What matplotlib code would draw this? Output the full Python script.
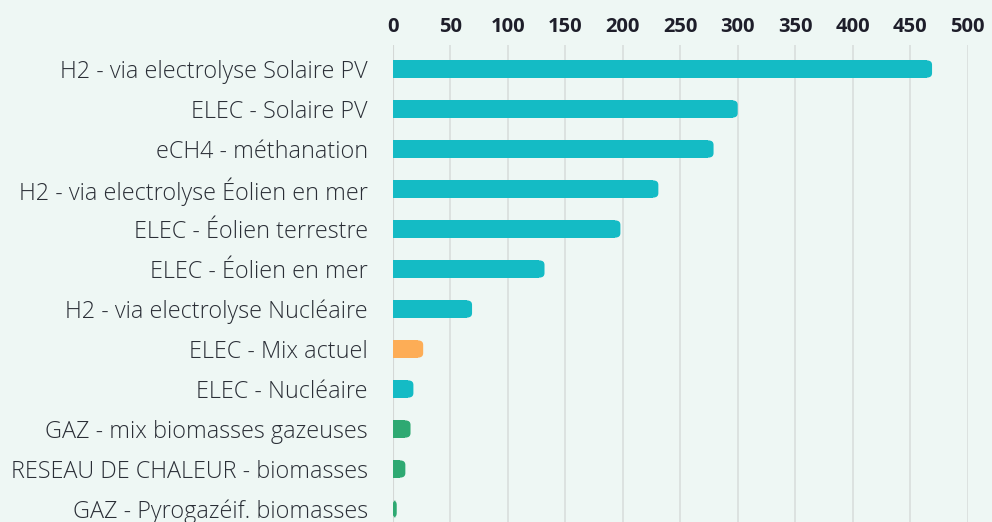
import matplotlib
matplotlib.use("Agg")
import matplotlib.pyplot as plt
from matplotlib.patches import FancyBboxPatch

labels = [
    "H2 - via electrolyse Solaire PV",
    "ELEC - Solaire PV",
    "eCH4 - méthanation",
    "H2 - via electrolyse Éolien en mer",
    "ELEC - Éolien terrestre",
    "ELEC - Éolien en mer",
    "H2 - via electrolyse Nucléaire",
    "ELEC - Mix actuel",
    "ELEC - Nucléaire",
    "GAZ - mix biomasses gazeuses",
    "RESEAU DE CHALEUR - biomasses",
    "GAZ - Pyrogazéif. biomasses",
]
values = [469, 300, 279, 231, 198, 132, 69, 26.5, 18, 15.5, 11, 3.5]
groups = ["elec", "elec", "elec", "elec", "elec", "elec", "elec", "mix", "elec", "bio", "bio", "bio"]
xticks = [0, 50, 100, 150, 200, 250, 300, 350, 400, 450, 500]

colors = {"elec": "#14bbc5", "mix": "#fdad56", "bio": "#2ea972"}
bg = "#eef7f4"

fig = plt.figure(figsize=(9.92, 5.22), dpi=100, facecolor=bg)
x0, x1 = 392.7, 967.7
ax = fig.add_axes([x0 / 992, -11 / 522, (x1 - x0) / 992, 488 / 522])
ax.set_facecolor(bg)

bar_h = 0.43
r_x = 4.5   # corner radius in data units (x)
r_y = 0.11  # same in y units
for i, (v, g) in enumerate(zip(values, groups)):
    c = colors[g]
    r = min(r_x, v)
    # square left part
    ax.barh(i, v - r, height=bar_h, color=c, zorder=3, linewidth=0)
    # rounded right end
    box = FancyBboxPatch((max(v - 2 * r, 0), i - bar_h / 2), min(2 * r, v), bar_h,
                         boxstyle="round,pad=0,rounding_size=%f" % r,
                         mutation_aspect=r_y / r, facecolor=c, edgecolor="none", zorder=3)
    ax.add_patch(box)

y = list(range(len(labels)))
ax.set_xlim(0, 500)
ax.set_ylim(len(labels) - 0.4, -0.6)
ax.set_yticks(y)
ax.set_yticklabels(labels, fontsize=16.8, color="#2a2e36", family="Open Sans", fontweight="light")
ax.set_xticks(xticks)
ax.xaxis.tick_top()
ax.set_xticklabels([str(t) for t in xticks], fontsize=14.5, fontweight="bold", color="#1e1e2a",
                   family="Open Sans")
ax.tick_params(axis="both", length=0)
ax.tick_params(axis="x", pad=6)
ax.tick_params(axis="y", pad=18)
ax.grid(axis="x", color="#d9dedc", linewidth=1.2, zorder=0)
for s in ax.spines.values():
    s.set_visible(False)
ax.axvline(0, color="#d4d8d6", linewidth=1.5, zorder=2)

fig.savefig("out.png", dpi=100, facecolor=bg)
